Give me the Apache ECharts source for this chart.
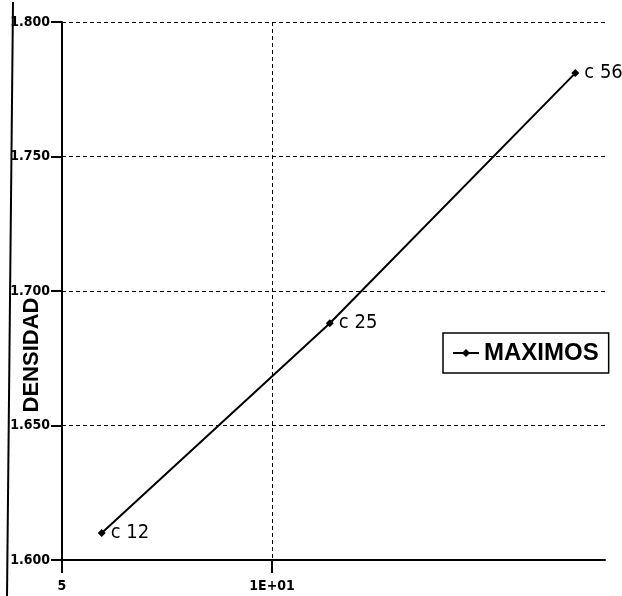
<!DOCTYPE html>
<html>
<head>
<meta charset="utf-8">
<script src="https://cdn.jsdelivr.net/npm/echarts@6/dist/echarts.min.js"></script>
<style>html,body{margin:0;padding:0;background:#fff}#c{width:622px;height:596px}</style>
</head>
<body>
<div id="c"></div>
<script>
const seriesName = 'MAXIMOS';
const pointNames = ['c 12', 'c 25', 'c 56'];
const xValues = [5.7, 12.1, 27.2];
const yValues = [1.610, 1.688, 1.781];
const xTickLabels = {5: '5', 10: '1E+01'};
const yMin = 1.6, yMax = 1.8, yStep = 0.05;
const xMin = 5, xMax = 30;
const yTitle = 'DENSIDAD';

const data = xValues.map((x, i) => ({value: [x, yValues[i]], name: pointNames[i]}));
const numFont = "'DejaVu Sans Condensed'";

const chart = echarts.init(document.getElementById('c'));
chart.setOption({
  animation: false,
  backgroundColor: '#fff',
  grid: {left: 62, right: 17, top: 22, bottom: 36, containLabel: false},
  legend: {
    left: 443, top: 333,
    padding: [8, 10, 8, 9],
    borderColor: '#000', borderWidth: 1.5, borderRadius: 0,
    itemWidth: 26, itemHeight: 10, itemGap: 6,
    textStyle: {fontFamily: "'Liberation Sans',Arial,sans-serif", fontWeight: 'bold', fontSize: 24, color: '#000'},
    data: [seriesName]
  },
  xAxis: {
    type: 'log', logBase: 10, min: xMin, max: xMax,
    axisLine: {lineStyle: {color: '#000', width: 2}},
    axisTick: {show: true, length: 13, lineStyle: {color: '#000', width: 2}},
    axisLabel: {
      margin: 19, color: '#000', fontWeight: 'bold', fontSize: 14, fontFamily: numFont,
      showMaxLabel: false,
      formatter: v => xTickLabels[Math.round(v)] || ''
    },
    splitLine: {show: true, showMinLine: false, showMaxLine: false, lineStyle: {color: '#000', type: [4, 3], width: 1}}
  },
  yAxis: {
    type: 'value', min: yMin, max: yMax, interval: yStep,
    axisLine: {show: true, lineStyle: {color: '#000', width: 2}},
    axisTick: {show: true, length: 11, lineStyle: {color: '#000', width: 2}},
    axisLabel: {margin: 12, color: '#000', fontWeight: 'bold', fontSize: 14, fontFamily: numFont,
      formatter: v => v.toFixed(3)},
    splitLine: {show: true, lineStyle: {color: '#000', type: [4, 3], width: 1}}
  },
  graphic: [
    {type: 'line', shape: {x1: 13, y1: 2, x2: 7, y2: 596}, style: {stroke: '#000', lineWidth: 2}},
    {type: 'text', x: 32, y: 355, rotation: Math.PI / 2,
      style: {text: yTitle, fill: '#000', font: "bold 22px 'Liberation Sans', Arial, sans-serif", align: 'center', verticalAlign: 'middle'}}
  ],
  series: [{
    name: seriesName,
    type: 'line',
    data: data,
    symbol: 'diamond', symbolSize: 8,
    lineStyle: {color: '#000', width: 2},
    itemStyle: {color: '#000'},
    label: {show: true, position: 'right', distance: 5, formatter: p => p.name,
      color: '#000', fontSize: 20, fontFamily: numFont}
  }]
});
</script>
</body>
</html>
